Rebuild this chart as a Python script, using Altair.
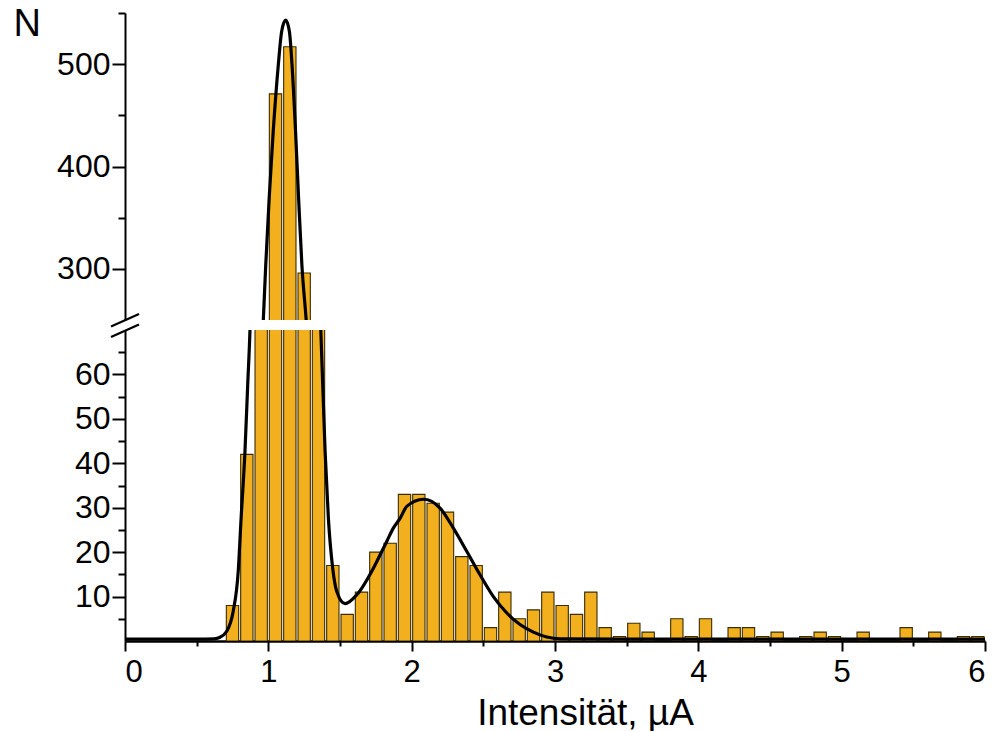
import altair as alt
import pandas as pd

# ---- data ----
bin_centers = [0.75, 0.85, 0.95, 1.05, 1.15, 1.25, 1.35, 1.45, 1.55, 1.65,
               1.75, 1.85, 1.95, 2.05, 2.15, 2.25, 2.35, 2.45, 2.55, 2.65,
               2.75, 2.85, 2.95, 3.05, 3.15, 3.25, 3.35, 3.45, 3.55, 3.65,
               3.75, 3.85, 3.95, 4.05, 4.15, 4.25, 4.35, 4.45, 4.55, 4.65,
               4.75, 4.85, 4.95, 5.05, 5.15, 5.25, 5.35, 5.45, 5.55, 5.65,
               5.75, 5.85, 5.95]
counts = [8, 42, 200, 471, 517, 296, 90, 17, 6, 11,
          20, 22, 33, 33, 31, 29, 19, 17, 3, 11,
          5, 7, 11, 8, 6, 11, 3, 1, 4, 2,
          0, 5, 1, 5, 0, 3, 3, 1, 2, 0,
          1, 2, 1, 0, 2, 0, 0, 3, 0, 2,
          0, 1, 1]

curve_x = [0.0, 0.5, 0.62, 0.66, 0.71, 0.755, 0.79, 0.81, 0.837, 0.856,
           0.872, 0.92, 0.965, 0.982, 1.006, 1.034, 1.07, 1.093, 1.121, 1.147,
           1.165, 1.19, 1.211, 1.234, 1.263, 1.31, 1.366, 1.396, 1.419, 1.449,
           1.477, 1.535, 1.617, 1.733, 1.78, 1.826, 1.872, 1.919, 1.966, 2.082,
           2.198, 2.291, 2.384, 2.477, 2.57, 2.664, 2.756, 2.849, 2.942, 3.036,
           3.5, 6.0]
curve_y = [0.4, 0.4, 0.5, 0.8, 2.2, 6.7, 15.7, 27.6, 42.7, 57.6,
           70, 150, 250, 304, 369.5, 434, 500, 532, 543, 532,
           500, 434, 369.5, 304, 252, 150, 70, 42.7, 27.6, 16.4,
           11.2, 8.4, 10.4, 16.4, 19.4, 22.4, 25.4, 27.6, 30.3, 31.9,
           29.9, 25.4, 20.2, 14.9, 10.0, 6.3, 3.7, 2.0, 0.9, 0.5,
           0.4, 0.4]

x_tick_values = [0, 0.5, 1, 1.5, 2, 2.5, 3, 3.5, 4, 4.5, 5, 5.5, 6]
upper_tick_values = [300, 350, 400, 450, 500, 550]
lower_tick_values = [5, 10, 15, 20, 25, 30, 35, 40, 45, 50, 55, 60, 65]

x_title = "Intensität, µA"
y_title = "N"

# ---- tables ----
half_w = 0.043
bars_df = pd.DataFrame({
    "x0": [c - half_w for c in bin_centers],
    "x1": [c + half_w for c in bin_centers],
    "count": counts,
    "base": [0] * len(counts),
})
curve_df = pd.DataFrame({"cx": curve_x, "cy": curve_y})

FONT = "Liberation Sans"
BAR_FILL = "#F2B01E"
BAR_STROKE = "#3a2c05"

xscale = alt.Scale(domain=[0, 6], nice=False, zero=False)


def panel(ydomain, height, yaxis, xaxis, extra=None):
    yscale = alt.Scale(domain=ydomain, nice=False, zero=False)
    bars = alt.Chart(bars_df).mark_bar(
        color=BAR_FILL, stroke=BAR_STROKE, strokeWidth=1.1, clip=True
    ).encode(
        x=alt.X("x0:Q", scale=xscale, axis=xaxis),
        x2="x1",
        y=alt.Y("count:Q", scale=yscale, axis=yaxis),
        y2="base",
    )
    line = alt.Chart(curve_df).mark_line(
        color="black", strokeWidth=3.2, clip=True, interpolate="monotone"
    ).encode(
        x=alt.X("cx:Q", scale=xscale, axis=xaxis),
        y=alt.Y("cy:Q", scale=yscale, axis=yaxis),
    )
    layers = [bars, line]
    if extra is not None:
        layers += extra
    return alt.layer(*layers).properties(width=860, height=height)


upper_yaxis = alt.Axis(
    values=upper_tick_values,
    labelExpr="datum.value % 100 == 0 ? datum.label : ''",
    tickSize={"condition": {"test": "datum.value % 100 == 0", "value": 13}, "value": 7},
    tickWidth=2, domainWidth=2, labelPadding=2, labelFontSize=32,
    grid=False, title=y_title, titleAngle=0, titleFontSize=38,
    titleFontWeight="normal", titleX=-112, titleY=22, titleAlign="left",
    titleBaseline="alphabetic",
)
lower_yaxis = alt.Axis(
    values=lower_tick_values,
    labelExpr="datum.value % 10 == 0 ? datum.label : ''",
    tickSize={"condition": {"test": "datum.value % 10 == 0", "value": 13}, "value": 7},
    tickWidth=2, domainWidth=2, labelPadding=2, labelFontSize=32,
    grid=False, title=None,
)
lower_xaxis = alt.Axis(
    values=x_tick_values,
    labelExpr="datum.value % 1 == 0 ? format(datum.value, 'd') : ''",
    tickSize={"condition": {"test": "datum.value % 1 == 0", "value": 10}, "value": 5},
    tickWidth=2, domainWidth=2.6, labelPadding=6, labelFontSize=31,
    grid=False, title=x_title, titleFontSize=37, titleFontWeight="normal",
    titleX=460, titleY=83, titleAlign="center", titleBaseline="alphabetic",
)

one = pd.DataFrame({"k": [0]})
break_lo = alt.Chart(one).mark_rule(color="black", strokeWidth=2.2).encode(
    x=alt.value(-14), x2=alt.value(14), y=alt.value(7), y2=alt.value(-5.5)
)
break_hi = alt.Chart(one).mark_rule(color="black", strokeWidth=2.2).encode(
    x=alt.value(-14), x2=alt.value(14), y=alt.value(-3.5), y2=alt.value(-16)
)

upper = panel([250, 550], 307, upper_yaxis, None)
lower = panel([0, 70], 311, lower_yaxis, lower_xaxis, [break_lo, break_hi])

chart = alt.vconcat(upper, lower, spacing=10, bounds="flush").resolve_scale(
    y="independent"
).properties(
    padding={"left": 13, "top": 5, "right": 5, "bottom": 0}
).configure_view(stroke=None).configure_axis(
    labelFont=FONT, titleFont=FONT, labelColor="black", titleColor="black",
    domainColor="black", tickColor="black",
)

chart.save("out.html", embed_options={"renderer": "svg", "actions": False})
